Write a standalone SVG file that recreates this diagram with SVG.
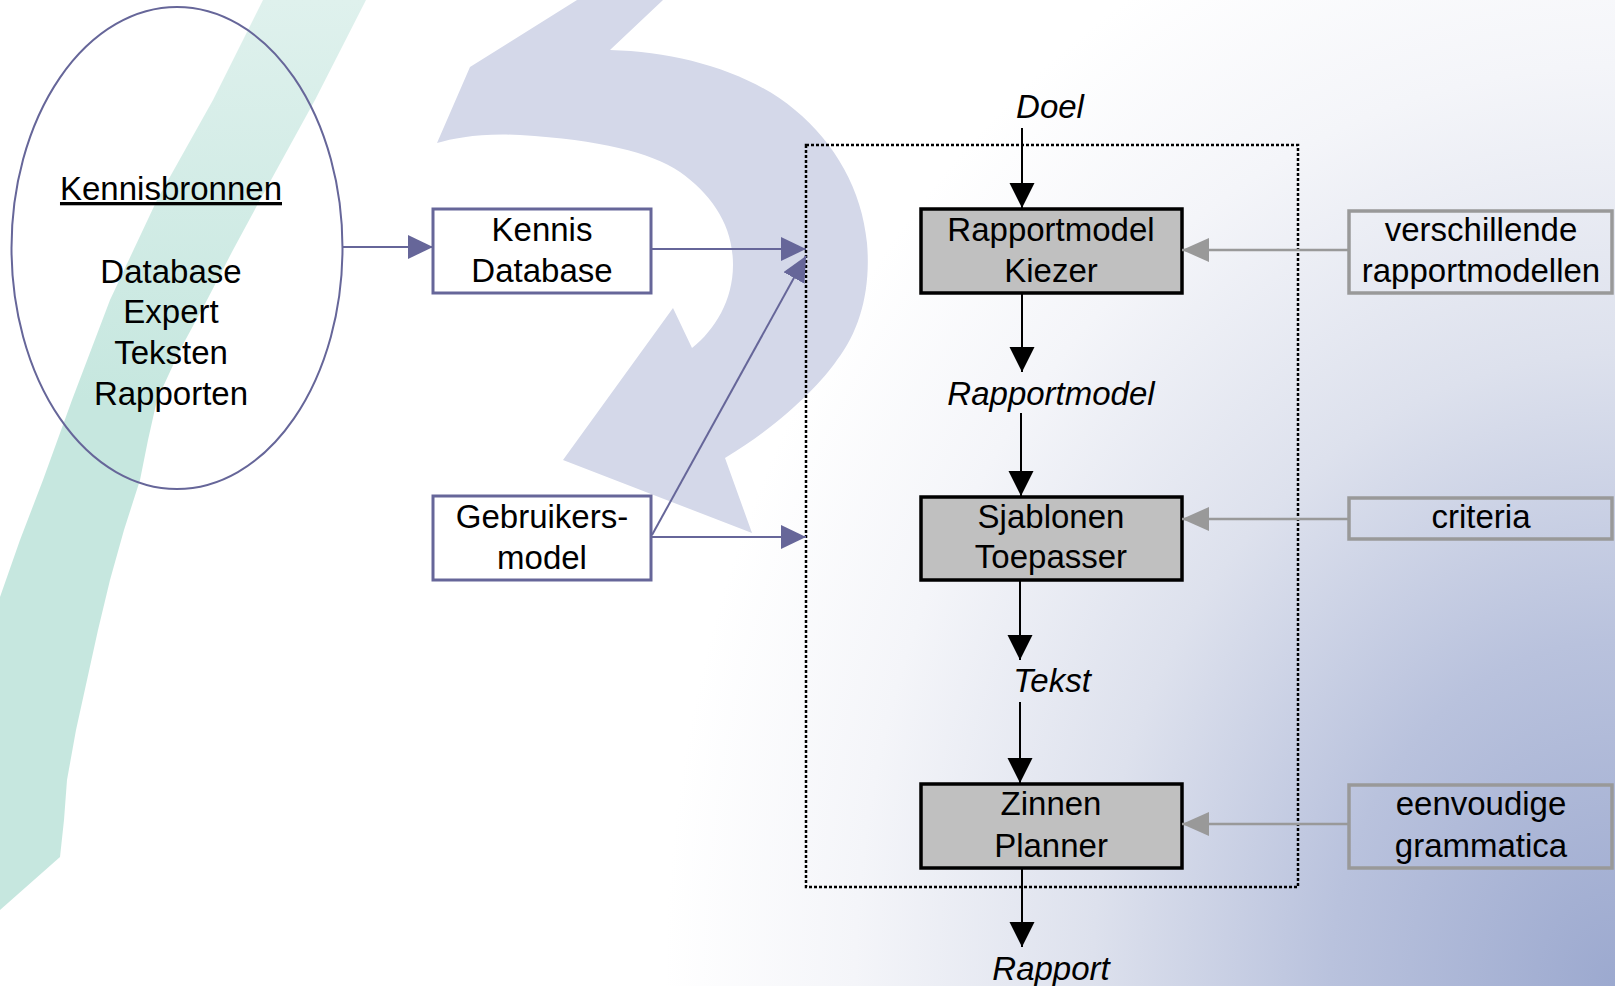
<svg xmlns="http://www.w3.org/2000/svg" width="1615" height="986" viewBox="0 0 1615 986">
  <defs>
    <radialGradient id="bgGrad" gradientUnits="userSpaceOnUse" cx="1615" cy="986" r="1000" gradientTransform="translate(1615 986) scale(0.95 1.15) translate(-1615 -986)">
      <stop offset="0" stop-color="#9ca9cf"/>
      <stop offset="0.3" stop-color="#b9c2dd"/>
      <stop offset="0.55" stop-color="#dde1ed"/>
      <stop offset="0.8" stop-color="#f4f5f9"/>
      <stop offset="1" stop-color="#ffffff"/>
    </radialGradient>
    <linearGradient id="tealGrad" gradientUnits="userSpaceOnUse" x1="0" y1="0" x2="0" y2="400">
      <stop offset="0" stop-color="#dff1ed"/>
      <stop offset="1" stop-color="#c6e7df"/>
    </linearGradient>
    <marker id="mPurple" markerUnits="userSpaceOnUse" markerWidth="26" markerHeight="26" refX="25" refY="12" orient="auto">
      <path d="M0,0 L25,12 L0,24 Z" fill="#666699"/>
    </marker>
    <marker id="mBlack" markerUnits="userSpaceOnUse" markerWidth="26" markerHeight="26" refX="25" refY="12.5" orient="auto">
      <path d="M0,0 L25,12.5 L0,25 Z" fill="#000000"/>
    </marker>
    <marker id="mGrey" markerUnits="userSpaceOnUse" markerWidth="28" markerHeight="26" refX="27" refY="12" orient="auto">
      <path d="M0,0 L27,12 L0,24 Z" fill="#999999"/>
    </marker>
  </defs>
  <style>
    text { font-family: "Liberation Sans", Arial, sans-serif; font-size: 33px; fill: #000; text-anchor: middle; }
    .it { font-style: italic; }
    .src { fill: #ffffff; stroke: #666699; stroke-width: 3; }
    .proc { fill: #c0c0c0; stroke: #000000; stroke-width: 3.5; }
    .res { fill: none; stroke: #999999; stroke-width: 3.5; }
    .cp { stroke: #666699; stroke-width: 2; fill: none; }
    .cb { stroke: #000000; stroke-width: 2; fill: none; }
    .cg { stroke: #999999; stroke-width: 2.5; fill: none; }
  </style>

  <!-- background -->
  <g id="background">
    <rect x="0" y="0" width="1615" height="986" fill="#ffffff"/>
    <rect x="0" y="0" width="1615" height="986" fill="url(#bgGrad)"/>
    <path d="M263,0 L213,100 L157,200 L110,300 L72,400 L43,480 L20,540 L0,597 L0,910 L60,857 L64,820 L67,780 L76,730 L87,680 L98,630 L110,580 L124,530 L140,480 L148,440 L157,400 L180,350 L207,300 L233,250 L260,200 L315,100 L366,0 Z" fill="url(#tealGrad)"/>
    <path d="M577,0 L663,0 L610,50 C680,52 750,72 795,110 C835,143 862,190 867,243 C871,290 860,330 837,360 C820,385 780,425 725,458 L752,533 L563,460 L673,308 L692,348 C715,330 733,300 733,265 C733,225 712,195 680,172 C650,152 600,140 520,135 C480,133 455,138 437,143 L470,67 Z" fill="#d4d8e9"/>
  </g>

  <!-- system boundary -->
  <rect id="boundary" x="806" y="145" width="492" height="742" fill="none" stroke="#000" stroke-width="2.5" stroke-dasharray="3 2"/>

  <!-- nodes -->
  <g id="kennisbronnen">
    <ellipse cx="177" cy="248" rx="165.5" ry="241" fill="none" stroke="#666699" stroke-width="2"/>
    <text x="171" y="200" text-decoration="underline">Kennisbronnen</text>
    <text x="171" y="283">Database</text>
    <text x="171" y="323">Expert</text>
    <text x="171" y="364">Teksten</text>
    <text x="171" y="405">Rapporten</text>
  </g>
  <g id="kennis-database">
    <rect class="src" x="433" y="209" width="218" height="84"/>
    <text x="542" y="241">Kennis</text>
    <text x="542" y="282">Database</text>
  </g>
  <g id="gebruikersmodel">
    <rect class="src" x="433" y="496" width="218" height="84"/>
    <text x="542" y="528">Gebruikers-</text>
    <text x="542" y="569">model</text>
  </g>
  <g id="label-doel"><text class="it" x="1050" y="118">Doel</text></g>
  <g id="rapportmodel-kiezer">
    <rect class="proc" x="921" y="209" width="261" height="84"/>
    <text x="1051" y="241">Rapportmodel</text>
    <text x="1051" y="282">Kiezer</text>
  </g>
  <g id="label-rapportmodel"><text class="it" x="1051" y="405">Rapportmodel</text></g>
  <g id="sjablonen-toepasser">
    <rect class="proc" x="921" y="497" width="261" height="83"/>
    <text x="1051" y="528">Sjablonen</text>
    <text x="1051" y="568">Toepasser</text>
  </g>
  <g id="label-tekst"><text class="it" x="1052" y="692">Tekst</text></g>
  <g id="zinnen-planner">
    <rect class="proc" x="921" y="784" width="261" height="84"/>
    <text x="1051" y="815">Zinnen</text>
    <text x="1051" y="857">Planner</text>
  </g>
  <g id="label-rapport"><text class="it" x="1051" y="980">Rapport</text></g>
  <g id="verschillende-rapportmodellen">
    <rect class="res" x="1349" y="211" width="263" height="82"/>
    <text x="1481" y="241">verschillende</text>
    <text x="1481" y="282">rapportmodellen</text>
  </g>
  <g id="criteria">
    <rect class="res" x="1349" y="498" width="263" height="41"/>
    <text x="1481" y="528">criteria</text>
  </g>
  <g id="eenvoudige-grammatica">
    <rect class="res" x="1349" y="785" width="263" height="83"/>
    <text x="1481" y="815">eenvoudige</text>
    <text x="1481" y="857">grammatica</text>
  </g>

  <!-- connectors -->
  <g id="connectors">
    <line class="cp" x1="343" y1="247" x2="433" y2="247" marker-end="url(#mPurple)"/>
    <line class="cp" x1="651" y1="249" x2="806" y2="249" marker-end="url(#mPurple)"/>
    <line class="cp" x1="651" y1="537" x2="806" y2="537" marker-end="url(#mPurple)"/>
    <line class="cp" x1="652" y1="535" x2="806" y2="256" marker-end="url(#mPurple)"/>
    <line class="cb" x1="1022" y1="128" x2="1022" y2="208" marker-end="url(#mBlack)"/>
    <line class="cb" x1="1022" y1="293" x2="1022" y2="372" marker-end="url(#mBlack)"/>
    <line class="cb" x1="1021" y1="413" x2="1021" y2="496" marker-end="url(#mBlack)"/>
    <line class="cb" x1="1020" y1="580" x2="1020" y2="660" marker-end="url(#mBlack)"/>
    <line class="cb" x1="1020" y1="702" x2="1020" y2="783" marker-end="url(#mBlack)"/>
    <line class="cb" x1="1022" y1="868" x2="1022" y2="947" marker-end="url(#mBlack)"/>
    <line class="cg" x1="1349" y1="250" x2="1182" y2="250" marker-end="url(#mGrey)"/>
    <line class="cg" x1="1349" y1="519" x2="1182" y2="519" marker-end="url(#mGrey)"/>
    <line class="cg" x1="1349" y1="824" x2="1182" y2="824" marker-end="url(#mGrey)"/>
  </g>
</svg>
